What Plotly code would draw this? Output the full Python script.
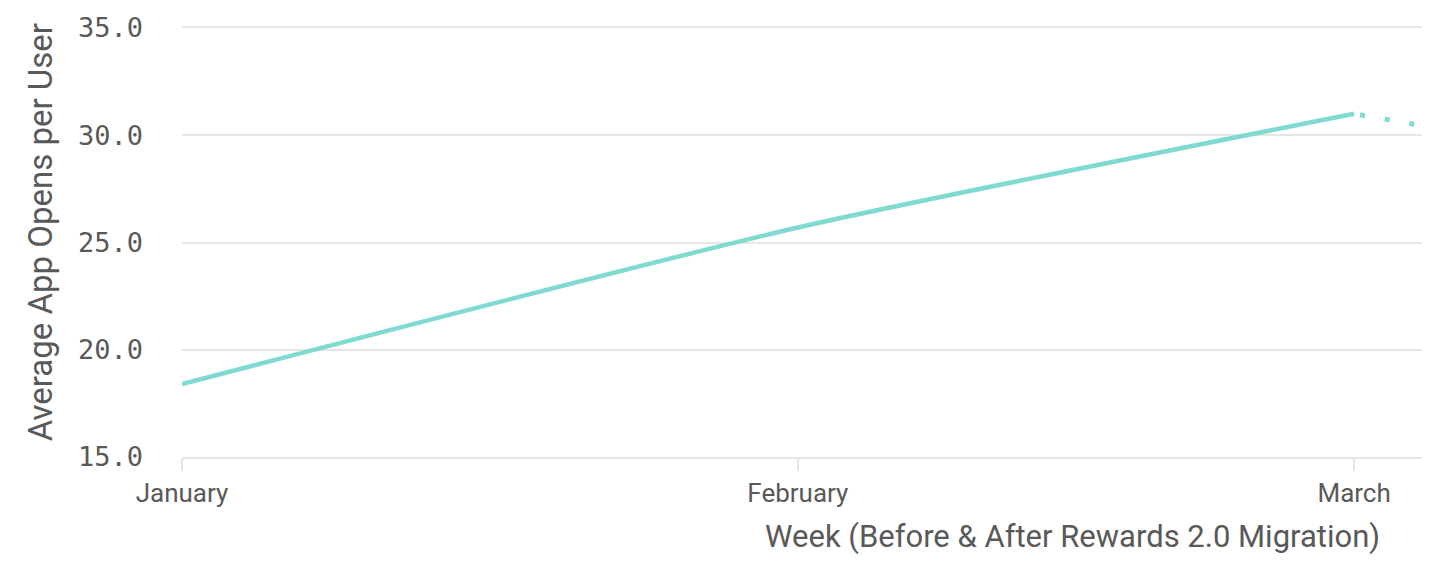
import plotly.graph_objects as go

dates = ["2025-01-01", "2025-02-01", "2025-03-01"]
values = [18.4, 25.7, 31.0]
partial_dates = ["2025-03-01", "2025-03-04 10:00"]
partial_values = [31.0, 30.45]
y_ticks = [15, 20, 25, 30, 35]
x_tick_vals = ["2025-01-01", "2025-02-01", "2025-03-01"]
x_tick_text = ["January", "February", "March"]

LINE = "#7fdad1"
TEXT = "#595959"
GRID = "#e6e6e6"

fig = go.Figure()
fig.add_trace(go.Scatter(x=dates, y=values, mode="lines",
                         line=dict(color=LINE, width=4.5, shape="spline", smoothing=0.6),
                         showlegend=False, hoverinfo="skip"))
fig.add_trace(go.Scatter(x=partial_dates, y=partial_values, mode="lines",
                         line=dict(color=LINE, width=5, dash="0px,6px,5px,14px"),
                         showlegend=False, hoverinfo="skip"))

fig.update_layout(
    width=1448, height=578,
    margin=dict(l=174, r=34, t=20, b=129, autoexpand=False),
    plot_bgcolor="white", paper_bgcolor="white",
    font=dict(family="Roboto", color=TEXT),
    xaxis=dict(type="date", range=[dates[0], partial_dates[-1]],
               tickvals=x_tick_vals, ticktext=x_tick_text,
               tickfont=dict(family="Roboto", size=26, color=TEXT),
               ticks="outside", ticklen=12, tickcolor=GRID, tickwidth=2,
               showgrid=False, showline=True, mirror=True, linecolor=GRID, linewidth=2,
               zeroline=False, automargin=False),
    yaxis=dict(range=[15, 35], tickvals=y_ticks, tickformat=".1f",
               tickfont=dict(family="DejaVu Sans Mono", size=27, color=TEXT),
               showgrid=True, gridcolor=GRID, gridwidth=2,
               zeroline=False, showline=False, ticks="", ticklabelstandoff=38,
               automargin=False),
    annotations=[
        dict(text="Week (Before & After Rewards 2.0 Migration)", xref="paper", yref="paper",
             x=0.968, y=-0.185, xanchor="right", yanchor="middle", showarrow=False,
             font=dict(family="Roboto", size=31, color=TEXT)),
        dict(text="Average App Opens per User", xref="paper", yref="paper",
             x=-0.1145, y=0.524, xanchor="center", yanchor="middle", showarrow=False,
             textangle=-90, font=dict(family="Roboto", size=33, color=TEXT)),
    ],
)

fig.write_html("out.html")
